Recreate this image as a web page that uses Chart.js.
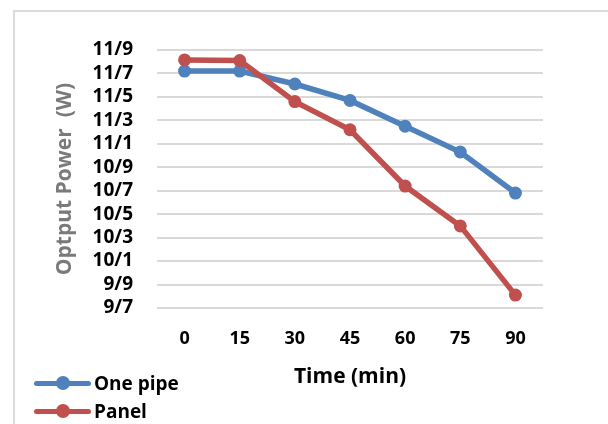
<!DOCTYPE html>
<html>
<head>
<meta charset="utf-8">
<script src="https://cdn.jsdelivr.net/npm/chart.js@4/dist/chart.umd.min.js"></script>
<style>
  html, body { margin: 0; padding: 0; background: #fff; }
  #wrap { position: relative; width: 608px; height: 424px; overflow: hidden; }
  #frame { position: absolute; left: 13px; top: 10px; width: 620px; height: 440px;
           border-left: 2px solid #dcdcdc; border-top: 2px solid #dcdcdc; }
  canvas { position: absolute; left: 0; top: 0; }
  #legend { position: absolute; left: 34px; top: 369px; font-family: "Open Sans", sans-serif;
            font-weight: bold; font-size: 19px; color: #000; }
  .item { display: flex; align-items: center; height: 28px; }
  .sym { position: relative; width: 57px; height: 14px; margin-right: 3px; }
  .sym .ln { position: absolute; left: 0; right: 0; top: 4.5px; height: 5px; border-radius: 3px; }
  .sym .dot { position: absolute; left: 21.5px; top: 0; width: 14px; height: 14px; border-radius: 50%; }
</style>
</head>
<body>
<div id="wrap">
  <div id="frame"></div>
  <canvas id="c" width="608" height="424"></canvas>
  <div id="legend"></div>
</div>
<script>
const categories = ["0", "15", "30", "45", "60", "75", "90"];
const onePipe = [11.72, 11.72, 11.61, 11.47, 11.25, 11.03, 10.68];
const panel = [11.815, 11.81, 11.46, 11.22, 10.74, 10.40, 9.81];
const yTicks = [9.7, 9.9, 10.1, 10.3, 10.5, 10.7, 10.9, 11.1, 11.3, 11.5, 11.7, 11.9];
const seriesNames = ["One pipe", "Panel"];
const seriesColors = ["#4f81bd", "#c0504d"];

const FONT = '"Open Sans", sans-serif';

const chart = new Chart(document.getElementById('c'), {
  type: 'line',
  data: {
    labels: categories,
    datasets: [
      { label: seriesNames[0], data: onePipe, borderColor: seriesColors[0], backgroundColor: seriesColors[0],
        borderWidth: 5.5, pointRadius: 6.5, pointBorderWidth: 0, pointBackgroundColor: seriesColors[0], order: 1, tension: 0 },
      { label: seriesNames[1], data: panel, borderColor: seriesColors[1], backgroundColor: seriesColors[1],
        borderWidth: 5.5, pointRadius: 6.5, pointBorderWidth: 0, pointBackgroundColor: seriesColors[1], order: 0, tension: 0 }
    ]
  },
  options: {
    responsive: false,
    animation: false,
    events: [],
    layout: { padding: { left: 52, top: 50, right: 65, bottom: 34 } },
    plugins: { legend: { display: false }, tooltip: { enabled: false } },
    scales: {
      x: {
        type: 'category',
        offset: true,
        grid: { display: false, drawTicks: false },
        border: { display: false },
        ticks: { color: '#000', font: { family: FONT, size: 18, weight: 'bold' }, padding: 20, maxRotation: 0, autoSkip: false },
        title: { display: true, text: 'Time (min)', color: '#000', padding: { top: 0, bottom: 0 },
                 font: { family: FONT, size: 21, weight: 'bold' } },
        afterFit: (s) => { s.height = 82; }
      },
      y: {
        min: yTicks[0],
        max: yTicks[yTicks.length - 1],
        grid: { color: '#d9d9d9', lineWidth: 2, drawTicks: false },
        border: { display: false },
        ticks: {
          color: '#000', font: { family: FONT, size: 19, weight: 'bold' }, padding: 24, autoSkip: false,
          callback: (v) => Number(v).toFixed(1).replace('.', '/')
        },
        afterBuildTicks: (s) => { s.ticks = yTicks.map(v => ({ value: v })); },
        title: { display: true, text: 'Optput Power  (W)', color: '#7a7a7a', padding: { top: 0, bottom: 0 },
                 font: { family: FONT, size: 21, weight: 'bold' } },
        afterFit: (s) => { s.width = 105; }
      }
    }
  }
});

const leg = document.getElementById('legend');
chart.data.datasets.forEach(ds => {
  const it = document.createElement('div');
  it.className = 'item';
  it.innerHTML = '<div class="sym"><div class="ln" style="background:' + ds.borderColor + '"></div>' +
                 '<div class="dot" style="background:' + ds.borderColor + '"></div></div><span></span>';
  it.querySelector('span').textContent = ds.label;
  leg.appendChild(it);
});
</script>
</body>
</html>
